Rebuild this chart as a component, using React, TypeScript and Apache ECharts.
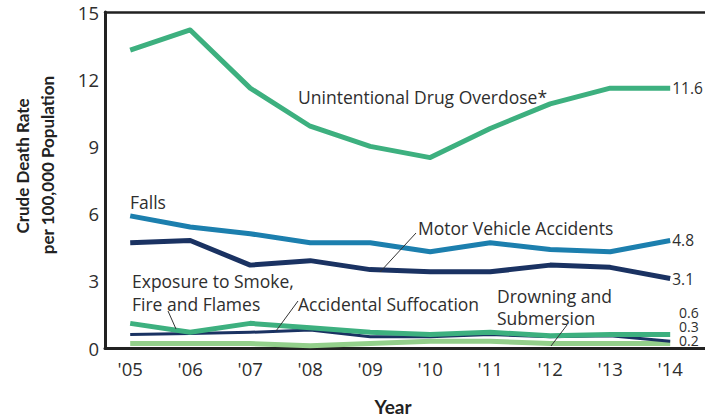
import React, { useEffect, useRef } from 'react';
import * as echarts from 'echarts';

const years = [2005, 2006, 2007, 2008, 2009, 2010, 2011, 2012, 2013, 2014];
const yTickStep = 3;
const yMax = 15;
const drugOverdose = [13.3, 14.2, 11.6, 9.9, 9.0, 8.5, 9.8, 10.9, 11.6, 11.6];
const falls = [5.9, 5.4, 5.1, 4.7, 4.7, 4.3, 4.7, 4.4, 4.3, 4.8];
const motorVehicle = [4.7, 4.8, 3.7, 3.9, 3.5, 3.4, 3.4, 3.7, 3.6, 3.1];
const suffocation = [1.1, 0.7, 1.1, 0.9, 0.7, 0.6, 0.7, 0.55, 0.6, 0.6];
const smokeFire = [0.6, 0.65, 0.7, 0.8, 0.5, 0.5, 0.6, 0.5, 0.55, 0.3];
const drowning = [0.2, 0.2, 0.2, 0.1, 0.2, 0.3, 0.3, 0.2, 0.2, 0.2];
const lowEndLabels = ['0.6', '0.3', '0.2'];

const FONT = '"Open Sans", Lato, sans-serif';
const BOLDFONT = 'Lato, "Open Sans", sans-serif';
const TXT = '#2e2e2e';
const GREEN = '#3db07f';
const BLUE = '#1c7fae';
const NAVY = '#1a3262';
const LIGHTGREEN = '#93cf8b';

const pairs = (vals: number[]) => years.map((y, i) => [y, vals[i]]);

export default function App() {
  const ref = useRef<HTMLDivElement>(null);
  useEffect(() => {
    if (!ref.current) return;
    const chart = echarts.init(ref.current, null, { renderer: 'svg' });
    const endLabel = {
      show: true,
      distance: 2,
      fontFamily: FONT,
      fontSize: 15.5,
      color: TXT,
      formatter: (p: any) => Number(p.value[1]).toFixed(1),
    };
    const line = (name: string, data: number[], color: string, width: number, withEnd: boolean, z: number) => ({
      type: 'line',
      name,
      data: pairs(data),
      symbol: 'none',
      z,
      lineStyle: { color, width, cap: 'butt', join: 'round' },
      itemStyle: { color },
      endLabel: withEnd ? endLabel : { show: false },
      silent: true,
    });
    const txt = (text: string, x: number, y: number, extra: any = {}) => ({
      type: 'text',
      x,
      y,
      style: {
        text,
        fontFamily: FONT,
        fontSize: 17.5,
        fill: TXT,
        textVerticalAlign: 'middle',
        ...extra,
      },
    });
    const ptr = (x1: number, y1: number, x2: number, y2: number) => ({
      type: 'line',
      shape: { x1, y1, x2, y2 },
      style: { stroke: '#333', lineWidth: 1 },
      z: 10,
    });
    const xCommon = {
      type: 'value',
      min: 2004.58,
      max: 2014.58,
      splitLine: { show: false },
      axisTick: { show: false },
    };
    chart.setOption({
      animation: false,
      grid: { left: 105, right: 0, top: 12, bottom: 70 },
      xAxis: [
        {
          ...xCommon,
          position: 'bottom',
          axisLine: { show: true, lineStyle: { color: '#222', width: 3 } },
          axisLabel: {
            customValues: years,
            formatter: (v: number) => "'" + String(Math.round(v)).slice(2),
            fontFamily: FONT,
            fontSize: 18.5,
            color: TXT,
            margin: 11,
          },
        },
        {
          ...xCommon,
          position: 'top',
          axisLine: { show: true, lineStyle: { color: '#222', width: 2.5 } },
          axisLabel: { show: false },
        },
      ],
      yAxis: {
        type: 'value',
        min: 0,
        max: yMax,
        interval: yTickStep,
        splitLine: { show: false },
        axisTick: { show: false },
        axisLine: { show: true, lineStyle: { color: '#222', width: 3 } },
        axisLabel: { fontFamily: FONT, fontSize: 18.5, color: TXT, margin: 6 },
      },
      series: [
        line('Drowning and Submersion', drowning, LIGHTGREEN, 5, false, 2),
        line('Exposure to Smoke, Fire and Flames', smokeFire, NAVY, 3, false, 3),
        line('Accidental Suffocation', suffocation, GREEN, 5, false, 4),
        line('Motor Vehicle Accidents', motorVehicle, NAVY, 5, true, 5),
        line('Falls', falls, BLUE, 5, true, 6),
        line('Unintentional Drug Overdose*', drugOverdose, GREEN, 5, true, 7),
      ],
      graphic: [
        txt('Unintentional Drug Overdose*', 298, 97),
        txt('Falls', 130, 202),
        txt('Motor Vehicle Accidents', 418, 228),
        txt('Exposure to Smoke,', 132, 281),
        txt('Fire and Flames', 132, 304),
        txt('Accidental Suffocation', 298, 304),
        txt('Drowning and', 497, 296),
        txt('Submersion', 497, 318),
        txt(lowEndLabels[0], 679, 312.5, { fontSize: 14 }),
        txt(lowEndLabels[1], 679, 326, { fontSize: 14 }),
        txt(lowEndLabels[2], 679, 340.5, { fontSize: 14 }),
        ptr(416, 233, 380, 272),
        ptr(168, 311, 176, 329),
        ptr(298, 301, 276, 331),
        ptr(567, 325, 551, 346),
        txt('Year', 393, 406, { fontFamily: BOLDFONT, fontWeight: 'bold', fontSize: 19, textAlign: 'center', fill: '#222' }),
        {
          type: 'text',
          x: 22,
          y: 166,
          rotation: Math.PI / 2,
          style: {
            text: 'Crude Death Rate',
            fontFamily: BOLDFONT,
            fontWeight: 'bold',
            fontSize: 17,
            fill: '#222',
            textAlign: 'center',
            textVerticalAlign: 'middle',
          },
        },
        {
          type: 'text',
          x: 47,
          y: 165,
          rotation: Math.PI / 2,
          style: {
            text: 'per 100,000 Population',
            fontFamily: BOLDFONT,
            fontWeight: 'bold',
            fontSize: 17,
            fill: '#222',
            textAlign: 'center',
            textVerticalAlign: 'middle',
          },
        },
      ],
    });
    return () => chart.dispose();
  }, []);
  return (
    <div
      ref={ref}
      style={{ position: 'fixed', left: 0, top: 0, width: 705, height: 418, background: '#fff' }}
    />
  );
}
